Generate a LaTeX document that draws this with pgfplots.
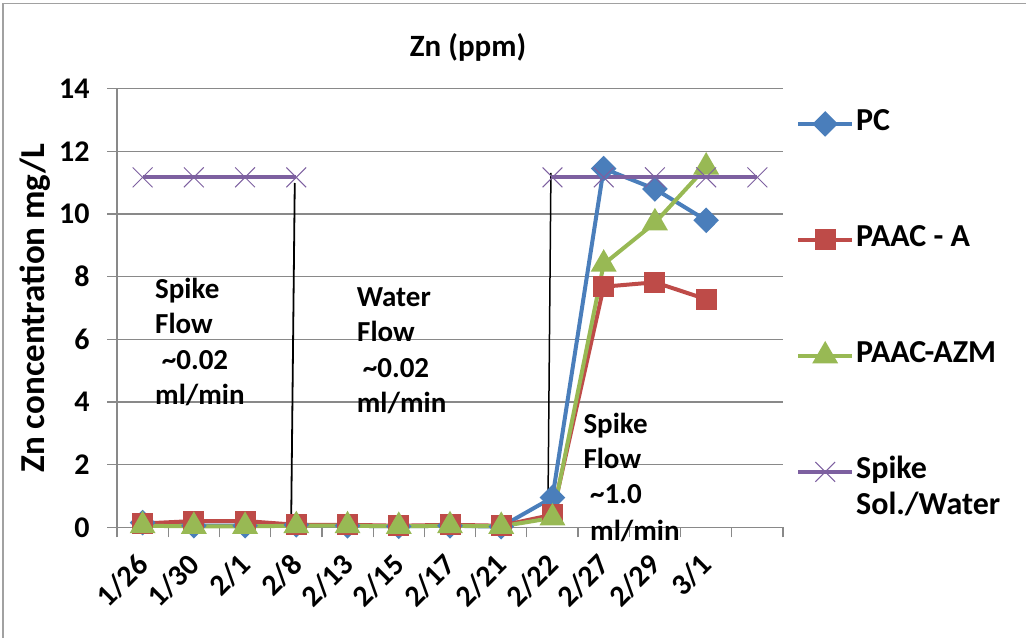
\documentclass[border=0pt]{standalone}
\usepackage{fontspec}
\setmainfont{Carlito}
\usepackage{pgfplots}
\pgfplotsset{compat=1.18}
\definecolor{cpc}{HTML}{4A7EBB}
\definecolor{cpa}{HTML}{BE4B48}
\definecolor{caz}{HTML}{98B954}
\definecolor{csp}{HTML}{7D60A0}
\definecolor{gridgray}{HTML}{898989}
\newcommand\ann[3]{\node[anchor=base west, inner sep=0pt, font=\bfseries\fontsize{29}{35}\selectfont] at (#1pt,#2pt) {#3};}
\begin{document}
\begin{tikzpicture}
\useasboundingbox (0pt,0pt) rectangle (1026pt,638pt);
\draw[gridgray!80, line width=1.5pt] (3pt,0pt) -- (3pt,634.5pt) -- (1026pt,634.5pt);
\begin{axis}[
 at={(117pt,110.7pt)}, anchor=south west,
 scale only axis, width=666pt, height=438.6pt,
 xmin=-0.5, xmax=12.5, ymin=0, ymax=14,
 axis x line*=bottom, axis y line*=left,
 axis line style={gridgray, line width=1.3pt, -},
 xtick={-0.5,0.5,...,12.5}, xticklabels={},
 extra x ticks={0,1,...,11},
 extra x tick labels={1/26,1/30,2/1,2/8,2/13,2/15,2/17,2/21,2/22,2/27,2/29,3/1},
 extra x tick style={major tick length=0pt, xticklabel style={yshift=-30pt, xshift=3pt, rotate=45, anchor=east}},
 ytick={0,2,...,14},
 yticklabel style={xshift=-14pt},
 ymajorgrids, grid style={gridgray, line width=1.3pt},
 tick align=outside, major tick length=10pt, tick style={gridgray, line width=1.3pt},
 ticklabel style={font=\bfseries\fontsize{30}{34}\selectfont},
 /pgf/number format/assume math mode=true,
 ylabel={Zn concentration mg/L},
 ylabel style={at={(axis description cs:-0.1231,0.5)}, anchor=center, font=\bfseries\fontsize{35}{38}\selectfont},
 clip=false,
 legend style={at={(rel axis cs:1,1)}, anchor=north west, xshift=13pt, yshift=-20pt,
   draw=none, fill=none, inner sep=0pt, row sep=86pt,
   font=\bfseries\fontsize{32}{36}\selectfont,
   nodes={inner sep=2pt, text height=20pt, text depth=6pt}},
 legend cell align=left,
 legend image code/.code={\draw[mark repeat=2, mark phase=2, #1] plot coordinates {(0pt,0pt) (27pt,0pt) (54pt,0pt)};},
]
% annotation lines
\addplot[black, line width=1.8pt, forget plot] coordinates {(2.97,10.99) (2.90,0.23)};
\addplot[black, line width=1.5pt, forget plot] coordinates {(7.97,11.31) (7.91,0.23)};
% PC
\addplot[cpc, line width=4pt, mark=diamond*, mark size=10pt, mark options={xscale=1.33, solid, fill=cpc}] coordinates {
(0,0.15) (1,0.05) (2,0.05) (3,0.08) (4,0.05) (5,0.03) (6,0.05) (7,0.02) (8,0.95) (9,11.45) (10,10.8) (11,9.8)};
\addlegendentry{PC}
% PAAC - A
\addplot[cpa, line width=4pt, mark=square*, mark size=8.5pt, mark options={solid, fill=cpa}] coordinates {
(0,0.12) (1,0.2) (2,0.2) (3,0.08) (4,0.08) (5,0.05) (6,0.08) (7,0.05) (8,0.4) (9,7.68) (10,7.82) (11,7.28)};
\addlegendentry{PAAC - A}
% PAAC-AZM
\addplot[caz, line width=4pt, mark=triangle*, mark size=11pt, mark options={solid, fill=caz}] coordinates {
(0,0.05) (1,0.03) (2,0.03) (3,0.05) (4,0.05) (5,0.03) (6,0.05) (7,0.03) (8,0.3) (9,8.4) (10,9.72) (11,11.5)};
\addlegendentry{PAAC-AZM}
% Spike Sol./Water
\addplot[csp, line width=4pt, mark=x, mark size=14pt, mark options={solid, line width=1pt}, unbounded coords=jump] coordinates {
(0,11.17) (1,11.17) (2,11.17) (3,11.17) (4,nan) (5,nan) (6,nan) (7,nan) (8,11.17) (9,11.17) (10,11.17) (11,11.17) (12,11.17)};
\addlegendentry{\rlap{Spike}\smash{\raisebox{-36pt}{Sol./Water}}}
\end{axis}
\node[anchor=base, inner sep=0pt, font=\bfseries\fontsize{31}{35}\selectfont] at (468pt,581pt) {Zn (ppm)};
\ann{155}{339.7}{Spike}
\ann{155}{304.7}{Flow}
\ann{161.7}{268}{\textasciitilde0.02}
\ann{155}{233}{ml/min}
\ann{356.7}{331.3}{Water}
\ann{357}{296.3}{Flow}
\ann{362.7}{260}{\textasciitilde0.02}
\ann{356.7}{225}{ml/min}
\ann{583.3}{204.7}{Spike}
\ann{583.3}{169.7}{Flow}
\ann{590}{135}{\textasciitilde1.0}
\ann{590}{98}{ml/min}
\end{tikzpicture}
\end{document}
